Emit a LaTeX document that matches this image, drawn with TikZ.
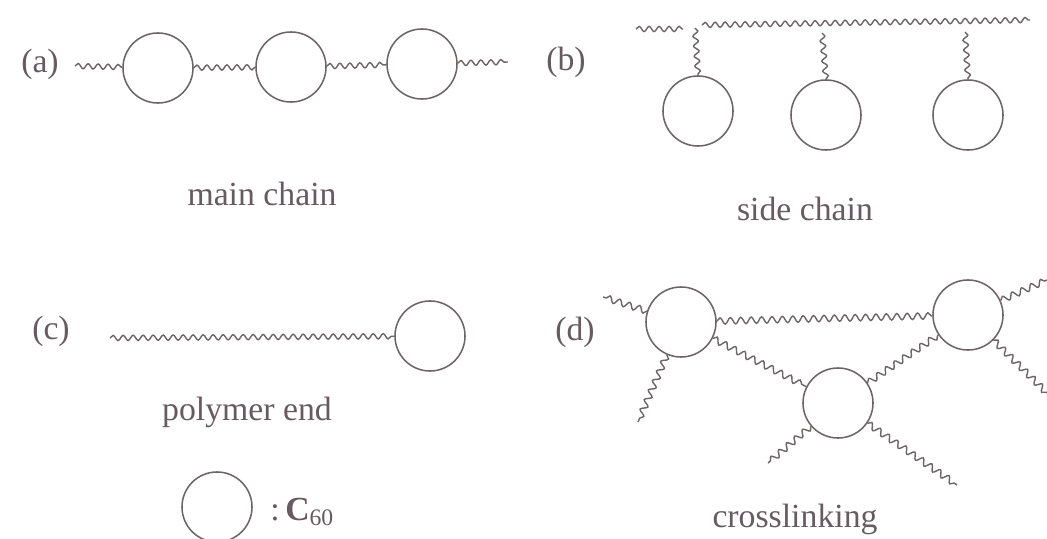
\documentclass[tikz,border=0pt]{standalone}
\usepackage{fontspec}
\setmainfont{Liberation Serif}
\usepackage{xcolor}
\usetikzlibrary{decorations.pathmorphing,positioning,calc}
\definecolor{inkgray}{HTML}{6E6466}
\definecolor{textgray}{HTML}{675A60}

\begin{document}
\begin{tikzpicture}[
    x=0.025cm, y=-0.025cm,
    cball/.style={circle, draw=inkgray, line width=1.1pt, minimum size=1.75cm, inner sep=0pt},
    chain/.style={draw=inkgray, line width=1pt, decorate, decoration={snake, segment length=2.5mm, amplitude=0.65mm}},
    xlink/.style={chain, decoration={snake, segment length=2.6mm, amplitude=0.8mm}},
    lbl/.style={text=textgray, font=\fontsize{24}{28}\selectfont, inner sep=0pt}
]
    \useasboundingbox (0,0) rectangle (1047,539);

    % (a) main chain
    \node [lbl] (la) at (40,64) {(a)};
    \node [cball] (a1) at (158,68) {};
    \node [cball] (a2) at (291,67) {};
    \node [cball] (a3) at (422,64) {};
    \coordinate (a0) at (75,66);
    \coordinate (a4) at (508,62);
    \draw [chain] (a0) -- (a1);
    \draw [chain] (a1) -- (a2);
    \draw [chain] (a2) -- (a3);
    \draw [chain] (a3) -- (a4);
    \node [lbl] (ta) at (262,194) {main chain};

    % (b) side chain
    \node [lbl] (lb) at (566,62) {(b)};
    \coordinate (b0) at (636,29);
    \coordinate (b1) at (683,29);
    \coordinate (b2) at (702,25);
    \coordinate (b3) at (1030,20);
    \draw [chain] (b0) -- (b1);
    \draw [chain] (b2) -- (b3);
    \node [cball] (s1) at (698,111) {};
    \node [cball] (s2) at (826,115) {};
    \node [cball] (s3) at (968,115) {};
    \coordinate (p1) at (695,28);
    \coordinate (p2) at (822,33);
    \coordinate (p3) at (965,32);
    \draw [chain] (p1) -- (s1.north);
    \draw [chain] (p2) -- (s2.north);
    \draw [chain] (p3) -- (s3.north);
    \node [lbl] (tb) at (805,209) {side chain};

    % (c) polymer end
    \node [lbl] (lc) at (51,331) {(c)};
    \node [cball] (c1) at (430,336) {};
    \coordinate (c0) at (110,338);
    \draw [chain] (c0) -- (c1);
    \node [lbl] (tc) at (247,412) {polymer end};

    % legend
    \node [cball] (key) at (217,507) {};
    \node [lbl, anchor=west] (tkey) at (270,512) {:\,\textbf{C}\textsubscript{60}};

    % (d) crosslinking
    \node [lbl] (ld) at (575,332) {(d)};
    \node [cball] (d1) at (681,322) {};
    \node [cball] (d2) at (968,315) {};
    \node [cball] (d3) at (838,403) {};
    \coordinate (e1) at (603,297);
    \coordinate (e2) at (638,422);
    \coordinate (e3) at (1047,280);
    \coordinate (e4) at (1047,393);
    \coordinate (e5) at (768,463);
    \coordinate (e6) at (957,485);
    \draw [xlink] (d1) -- (d2);
    \draw [xlink] (d1) -- (d3);
    \draw [xlink] (d3) -- (d2);
    \draw [xlink] (d1) -- (e1);
    \draw [xlink] (d1) -- (e2);
    \draw [xlink] (d2) -- (e3);
    \draw [xlink] (d2) -- (e4);
    \draw [xlink] (d3) -- (e5);
    \draw [xlink] (d3) -- (e6);
    \node [lbl] (td) at (795,519) {crosslinking};
\end{tikzpicture}
\end{document}
